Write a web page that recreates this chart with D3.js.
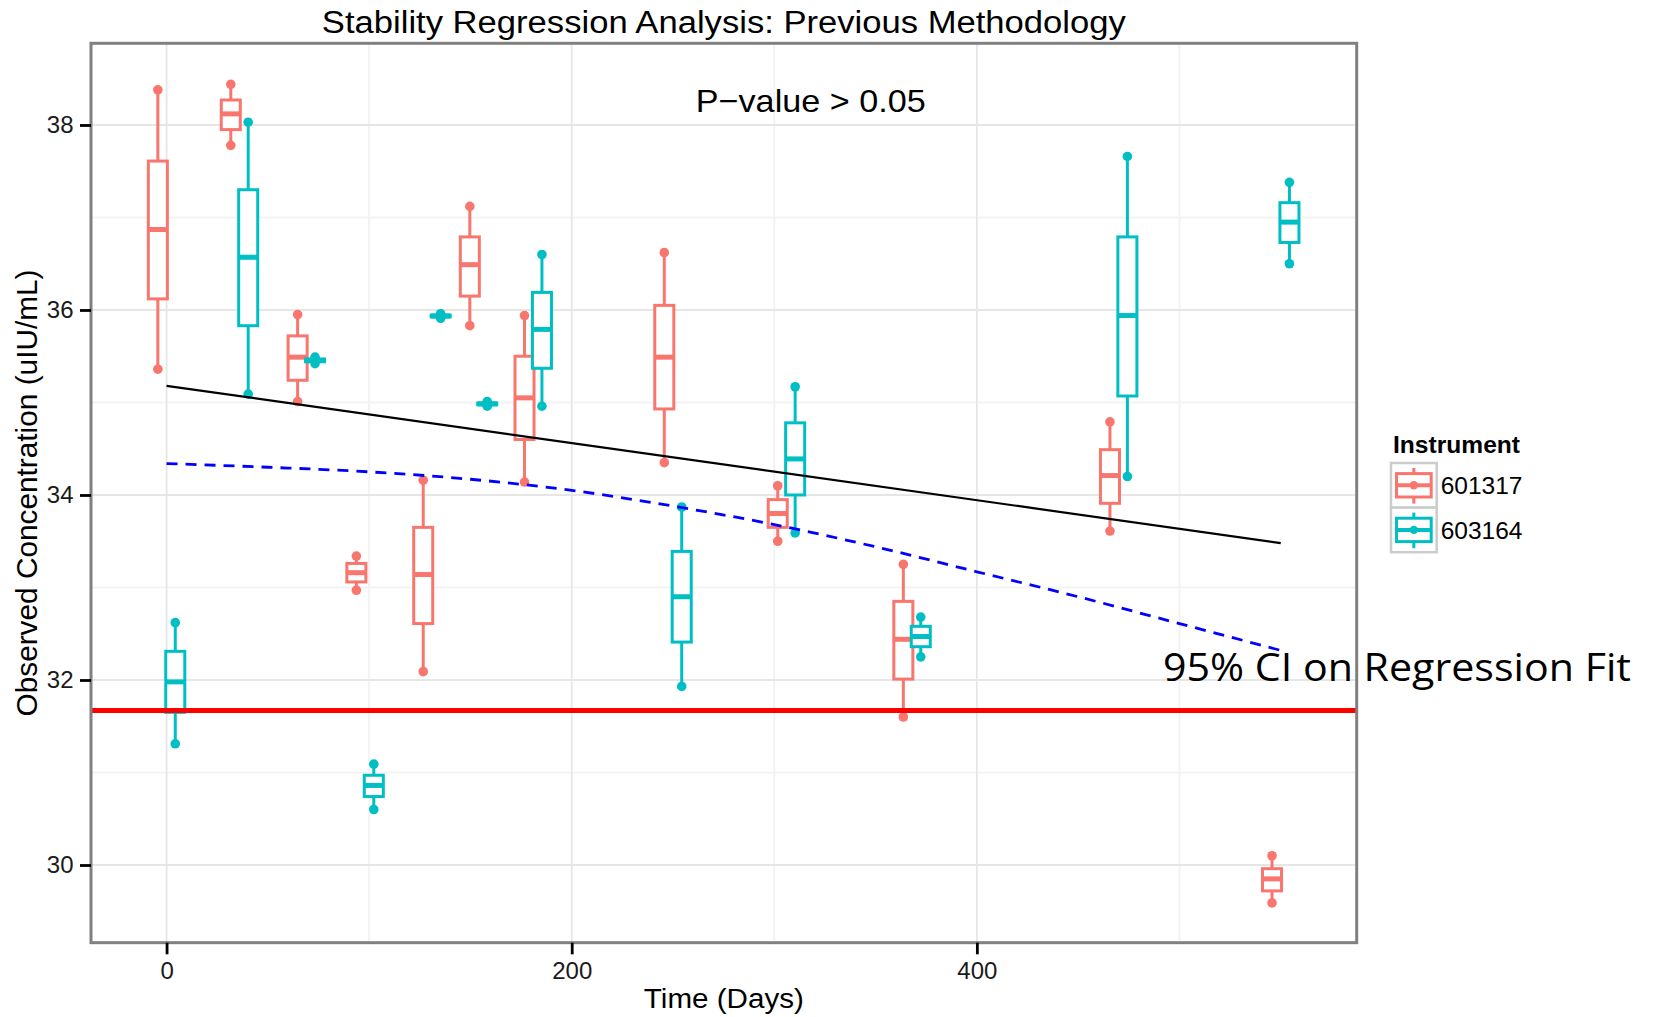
<!DOCTYPE html>
<html>
<head>
<meta charset="utf-8">
<title>Stability Regression Analysis: Previous Methodology</title>
<script src="https://cdn.jsdelivr.net/npm/d3@7"></script>
<style>
  body { margin: 0; background: #ffffff; }
  text { font-family: "Liberation Sans", Arial, Helvetica, sans-serif; }
</style>
</head>
<body>
<svg id="chart" width="1657" height="1017"></svg>
<script>
// ---- data -------------------------------------------------------------
const instruments = ["601317", "603164"];
const instrumentColors = ["#F8766D", "#00BFC4"];

// stability time points (days); each instrument's box is dodged around them
const timeDays = [0, 36, 69, 98, 131, 154, 181, 250, 306, 368, 470, 550];

// five-number summaries per time point: [min, q1, median, q3, max]
const stats601317 = [
  [35.36, 36.12, 36.87, 37.61, 38.38],
  [37.78, 37.95, 38.12, 38.27, 38.44],
  [35.01, 35.24, 35.49, 35.72, 35.95],
  [32.97, 33.06, 33.16, 33.26, 33.34],
  [32.09, 32.61, 33.14, 33.65, 34.16],
  [35.83, 36.15, 36.49, 36.79, 37.12],
  [34.14, 34.60, 35.05, 35.50, 35.94],
  [34.35, 34.93, 35.49, 36.05, 36.62],
  [33.50, 33.65, 33.80, 33.95, 34.10],
  [31.60, 32.01, 32.44, 32.85, 33.25],
  [33.61, 33.91, 34.21, 34.49, 34.79],
  [29.59, 29.72, 29.85, 29.96, 30.10]
];
const stats603164 = [
  [31.31, 31.65, 31.98, 32.31, 32.62],
  [35.09, 35.83, 36.57, 37.30, 38.03],
  [35.42, 35.44, 35.455, 35.47, 35.49],
  [30.60, 30.74, 30.86, 30.97, 31.09],
  [35.91, 35.925, 35.935, 35.945, 35.96],
  [34.96, 34.975, 34.985, 34.995, 35.01],
  [34.96, 35.37, 35.79, 36.19, 36.60],
  [31.93, 32.41, 32.90, 33.39, 33.87],
  [33.59, 34.00, 34.39, 34.78, 35.17],
  [32.25, 32.36, 32.47, 32.58, 32.68],
  [34.20, 35.07, 35.94, 36.79, 37.66],
  [36.50, 36.73, 36.95, 37.16, 37.38]
];
const instrumentStats = [stats601317, stats603164];

// regression fit and its lower 95% confidence bound
const fitDays = [0, 550];
const fitValues = [35.18, 33.48];
const ciDays = [0, 50, 100, 150, 200, 250, 300, 350, 400, 450, 500, 550];
const ciLower = [34.34, 34.30, 34.25, 34.17, 34.05, 33.88, 33.68, 33.44, 33.17, 32.90, 32.61, 32.32];

// specification limit
const specLimit = 31.67;

// axis ticks
const xTicks = [0, 200, 400];
const xMinorTicks = [100, 300, 500];
const yTicks = [30, 32, 34, 36, 38];
const yMinorTicks = [31, 33, 35, 37];

// ---- layout -----------------------------------------------------------
const panel = { left: 91, right: 1356.7, top: 43.3, bottom: 942.7 };
const dodge = 4.3;      // days each instrument is shifted from the time point
const boxWidth = 9.4;   // days

const svg = d3.select("#chart");

const x = d3.scaleLinear().domain([-37.3, 587.5]).range([panel.left, panel.right]);
const y = d3.scaleLinear().domain([29.16, 38.883]).range([panel.bottom, panel.top]);

// ---- grid -------------------------------------------------------------
const grid = svg.append("g");
grid.selectAll("line.ymin").data(yMinorTicks).join("line")
  .attr("x1", panel.left).attr("x2", panel.right)
  .attr("y1", d => y(d)).attr("y2", d => y(d))
  .attr("stroke", "#f3f3f3").attr("stroke-width", 2);
grid.selectAll("line.xmin").data(xMinorTicks).join("line")
  .attr("y1", panel.top).attr("y2", panel.bottom)
  .attr("x1", d => x(d)).attr("x2", d => x(d))
  .attr("stroke", "#f3f3f3").attr("stroke-width", 2);
grid.selectAll("line.ymaj").data(yTicks).join("line")
  .attr("x1", panel.left).attr("x2", panel.right)
  .attr("y1", d => y(d)).attr("y2", d => y(d))
  .attr("stroke", "#e6e6e6").attr("stroke-width", 1.8);
grid.selectAll("line.xmaj").data(xTicks).join("line")
  .attr("y1", panel.top).attr("y2", panel.bottom)
  .attr("x1", d => x(d)).attr("x2", d => x(d))
  .attr("stroke", "#e6e6e6").attr("stroke-width", 1.8);

// ---- boxplots ---------------------------------------------------------
const halfBox = (x(boxWidth) - x(0)) / 2;
instruments.forEach((inst, i) => {
  const color = instrumentColors[i];
  const offset = i === 0 ? -dodge : dodge;
  const rows = instrumentStats[i].map((s, j) => ({ t: timeDays[j] + offset, s }));
  const g = svg.append("g").attr("class", "inst-" + inst);

  const box = g.selectAll("g.box").data(rows).join("g").attr("class", "box");
  box.append("line")
    .attr("x1", d => x(d.t)).attr("x2", d => x(d.t))
    .attr("y1", d => y(d.s[4])).attr("y2", d => y(d.s[3]))
    .attr("stroke", color).attr("stroke-width", 3);
  box.append("line")
    .attr("x1", d => x(d.t)).attr("x2", d => x(d.t))
    .attr("y1", d => y(d.s[1])).attr("y2", d => y(d.s[0]))
    .attr("stroke", color).attr("stroke-width", 3);
  box.append("rect")
    .attr("x", d => x(d.t) - halfBox).attr("width", halfBox * 2)
    .attr("y", d => y(d.s[3])).attr("height", d => y(d.s[1]) - y(d.s[3]))
    .attr("fill", "#ffffff").attr("stroke", color).attr("stroke-width", 3);
  box.append("line")
    .attr("x1", d => x(d.t) - halfBox).attr("x2", d => x(d.t) + halfBox)
    .attr("y1", d => y(d.s[2])).attr("y2", d => y(d.s[2]))
    .attr("stroke", color).attr("stroke-width", 5);
  box.append("circle")
    .attr("cx", d => x(d.t)).attr("cy", d => y(d.s[4])).attr("r", 4.8).attr("fill", color);
  box.append("circle")
    .attr("cx", d => x(d.t)).attr("cy", d => y(d.s[0])).attr("r", 4.8).attr("fill", color);
});

// ---- regression fit, confidence bound, spec limit ----------------------
const fitLine = d3.line().x(d => x(d[0])).y(d => y(d[1]));
svg.append("path")
  .datum(fitDays.map((d, k) => [d, fitValues[k]]))
  .attr("d", fitLine)
  .attr("fill", "none").attr("stroke", "#000000").attr("stroke-width", 2.2);

const ciLine = d3.line().x(d => x(d[0])).y(d => y(d[1])).curve(d3.curveMonotoneX);
svg.append("path")
  .datum(ciDays.map((d, k) => [d, ciLower[k]]))
  .attr("d", ciLine)
  .attr("fill", "none").attr("stroke", "#0000ff").attr("stroke-width", 2.8)
  .attr("stroke-dasharray", "11,8");

svg.append("line")
  .attr("x1", panel.left).attr("x2", panel.right)
  .attr("y1", y(specLimit)).attr("y2", y(specLimit))
  .attr("stroke", "#ff0000").attr("stroke-width", 5);

// ---- annotations -------------------------------------------------------
svg.append("text")
  .attr("x", x(318)).attr("y", y(38.144))
  .attr("text-anchor", "middle")
  .attr("font-size", 32).attr("fill", "#000")
  .attr("textLength", 230).attr("lengthAdjust", "spacingAndGlyphs")
  .text("P\u2212value > 0.05");

svg.append("text")
  .attr("x", 1163).attr("y", 681)
  .style("font-family", "'Open Sans', 'Noto Sans', sans-serif")
  .attr("font-size", 39).attr("fill", "#000")
  .attr("textLength", 468).attr("lengthAdjust", "spacingAndGlyphs")
  .text("95% CI on Regression Fit");

// ---- panel border -----------------------------------------------------
svg.append("rect")
  .attr("x", panel.left).attr("y", panel.top)
  .attr("width", panel.right - panel.left).attr("height", panel.bottom - panel.top)
  .attr("fill", "none").attr("stroke", "#808080").attr("stroke-width", 3);

// ---- axes -------------------------------------------------------------
const yAxis = svg.append("g")
  .attr("transform", `translate(${panel.left},0)`)
  .call(d3.axisLeft(y).tickValues(yTicks).tickSize(11).tickPadding(6.5));
const xAxis = svg.append("g")
  .attr("transform", `translate(0,${panel.bottom})`)
  .call(d3.axisBottom(x).tickValues(xTicks).tickSize(11.6).tickPadding(8));
[xAxis, yAxis].forEach(ax => {
  ax.select(".domain").remove();
  ax.selectAll(".tick line").attr("stroke", "#000").attr("stroke-width", 2.8);
  ax.selectAll(".tick text")
    .attr("fill", "#1a1a1a").attr("font-size", 24)
    .style("font-family", "'Liberation Sans', Arial, sans-serif");
});

// ---- titles -----------------------------------------------------------
svg.append("text")
  .attr("x", (panel.left + panel.right) / 2).attr("y", 33.3)
  .attr("text-anchor", "middle").attr("font-size", 31).attr("fill", "#000")
  .attr("textLength", 804).attr("lengthAdjust", "spacingAndGlyphs")
  .text("Stability Regression Analysis: Previous Methodology");

svg.append("text")
  .attr("x", (panel.left + panel.right) / 2).attr("y", 1008.3)
  .attr("text-anchor", "middle").attr("font-size", 27).attr("fill", "#000")
  .attr("textLength", 160).attr("lengthAdjust", "spacingAndGlyphs")
  .text("Time (Days)");

svg.append("text")
  .attr("transform", `translate(37.3,${(panel.top + panel.bottom) / 2}) rotate(-90)`)
  .attr("text-anchor", "middle").attr("font-size", 29).attr("fill", "#000")
  .attr("textLength", 447).attr("lengthAdjust", "spacingAndGlyphs")
  .text("Observed Concentration (uIU/mL)");

// ---- legend -----------------------------------------------------------
const legend = svg.append("g").attr("transform", "translate(1391,463)");
legend.append("text")
  .attr("x", 2).attr("y", -9.7)
  .attr("font-size", 24.5).attr("font-weight", "bold").attr("fill", "#000")
  .attr("textLength", 127).attr("lengthAdjust", "spacingAndGlyphs")
  .text("Instrument");
const keyW = 45.7, keyH = 44.6;
const key = legend.selectAll("g.key").data(instruments).join("g")
  .attr("class", "key")
  .attr("transform", (d, i) => `translate(0,${i * keyH})`);
key.append("rect")
  .attr("width", keyW).attr("height", keyH)
  .attr("fill", "#fff").attr("stroke", "#cccccc").attr("stroke-width", 2.5);
key.append("line")
  .attr("x1", keyW / 2).attr("x2", keyW / 2).attr("y1", 5).attr("y2", keyH - 4)
  .attr("stroke", (d, i) => instrumentColors[i]).attr("stroke-width", 3);
key.append("rect")
  .attr("x", 5.5).attr("y", 10.6).attr("width", keyW - 11).attr("height", 23.4)
  .attr("fill", "#fff").attr("stroke", (d, i) => instrumentColors[i]).attr("stroke-width", 3);
key.append("line")
  .attr("x1", 5.5).attr("x2", keyW - 5.5).attr("y1", keyH / 2).attr("y2", keyH / 2)
  .attr("stroke", (d, i) => instrumentColors[i]).attr("stroke-width", 4);
key.append("circle")
  .attr("cx", keyW / 2).attr("cy", keyH / 2).attr("r", 4.2)
  .attr("fill", (d, i) => instrumentColors[i]);
key.append("text")
  .attr("x", keyW + 4).attr("y", keyH / 2 + 9)
  .attr("font-size", 24.5).attr("fill", "#000")
  .text(d => d);
</script>
</body>
</html>
